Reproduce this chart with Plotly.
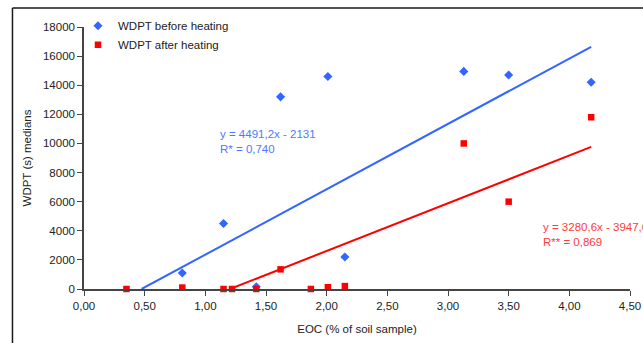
import plotly.graph_objects as go
import numpy as np

# Data
eoc_before = [0.81, 1.15, 1.42, 1.62, 2.01, 2.15, 3.13, 3.50, 4.18]
wdpt_before = [1100, 4500, 150, 13200, 14600, 2200, 14950, 14700, 14200]

eoc_after = [0.35, 0.81, 1.15, 1.22, 1.42, 1.62, 1.87, 2.01, 2.15, 3.13, 3.50, 4.18]
wdpt_after = [0, 100, 0, 0, 0, 1350, 0, 120, 200, 10000, 6000, 11800]

# Trend line coefficients (slope, intercept)
trend_before = (4491.2, -2131)
trend_after = (3280.6, -3947.6)

x_ticks = [0, 0.5, 1.0, 1.5, 2.0, 2.5, 3.0, 3.5, 4.0, 4.5]
x_tick_labels = ["0,00", "0,50", "1,00", "1,50", "2,00", "2,50", "3,00", "3,50", "4,00", "4,50"]
y_ticks = [0, 2000, 4000, 6000, 8000, 10000, 12000, 14000, 16000, 18000]
y_tick_labels = ["0", "2000", "4000", "6000", "8000", "10000", "12000", "14000", "16000", "18000"]

BLUE = "#3366FF"
RED = "#FF0000"
FONT = "Liberation Sans, Arial, sans-serif"
TXT = "#222222"

fig = go.Figure()

def trend_x(coef, xs):
    root = -coef[1] / coef[0]
    return np.array([max(root, 0.0), max(xs)])

xb = trend_x(trend_before, eoc_before)
xa = trend_x(trend_after, eoc_after)

fig.add_trace(go.Scatter(x=xb, y=trend_before[0] * xb + trend_before[1], mode="lines",
                         line=dict(color=BLUE, width=2), showlegend=False, hoverinfo="skip"))
fig.add_trace(go.Scatter(x=xa, y=trend_after[0] * xa + trend_after[1], mode="lines",
                         line=dict(color=RED, width=2), showlegend=False, hoverinfo="skip"))

fig.add_trace(go.Scatter(x=eoc_before, y=wdpt_before, mode="markers", name="WDPT before heating",
                         marker=dict(symbol="diamond", size=7, color=BLUE), cliponaxis=False))
fig.add_trace(go.Scatter(x=eoc_after, y=wdpt_after, mode="markers", name="WDPT after heating",
                         marker=dict(symbol="square", size=6.5, color=RED), cliponaxis=False))

fig.add_annotation(x=1.104, y=10100, xref="x", yref="y", xanchor="left", yanchor="middle",
                   text="y = 4491,2x - 2131<br>R* = 0,740", showarrow=False, align="left",
                   font=dict(family=FONT, size=11.5, color="#4D79FF"))
fig.add_annotation(x=3.765, y=3750, xref="x", yref="y", xanchor="left", yanchor="middle",
                   text="y = 3280,6x - 3947,6<br>R** = 0,869", showarrow=False, align="left",
                   font=dict(family=FONT, size=11.5, color="#FF3B3B"))

# outer frame lines (chart area border, partially visible)
fig.add_shape(type="line", xref="paper", yref="paper", x0=-0.131, x1=1.03, y0=1.0725, y1=1.0725,
              line=dict(color="#1a1a1a", width=1.5))
fig.add_shape(type="line", xref="paper", yref="paper", x0=-0.131, x1=-0.131, y0=1.0725, y1=-0.25,
              line=dict(color="#1a1a1a", width=1.5))

fig.update_layout(
    width=643, height=343,
    margin=dict(l=84, r=13, t=27, b=54, autoexpand=False),
    paper_bgcolor="white", plot_bgcolor="white",
    font=dict(family=FONT, size=11.5, color=TXT),
    legend=dict(x=-0.011, y=1.06, xanchor="left", yanchor="top", bgcolor="rgba(0,0,0,0)",
                font=dict(size=11.5, color=TXT), tracegroupgap=0),
    xaxis=dict(range=[0, 4.5], tickvals=x_ticks, ticktext=x_tick_labels, showgrid=False,
               zeroline=False, showline=True, linecolor="#444", linewidth=1.5,
               ticks="outside", ticklen=5, tickcolor="#444", automargin=False,
               title=dict(text="EOC (% of soil sample)", font=dict(size=11.5), standoff=14)),
    yaxis=dict(range=[0, 18000], tickvals=y_ticks, ticktext=y_tick_labels, showgrid=False,
               zeroline=False, automargin=False,
               showline=True, linecolor="#444", linewidth=1.5, ticks="outside", ticklen=5,
               tickcolor="#444",
               title=dict(text="WDPT (s) medians", font=dict(size=11.5), standoff=9)),
)

fig.write_html("out.html")
